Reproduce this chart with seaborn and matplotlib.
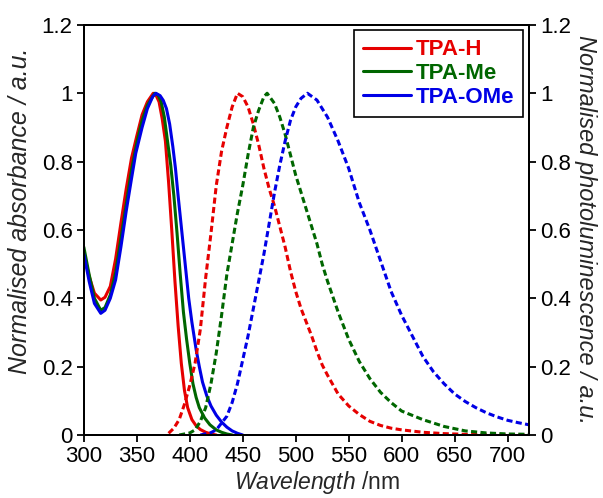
import matplotlib
matplotlib.use("Agg")
import matplotlib.pyplot as plt
import seaborn as sns
from matplotlib.ticker import FormatStrFormatter, FixedLocator

# ---------------- data ----------------
abs_h_wl = [300, 305, 310, 316, 320, 325, 330, 335, 340, 345, 350, 355, 360, 365.5, 368, 371, 374, 377, 380, 383, 386, 389, 392, 395, 398, 402, 406, 410, 415, 420, 425]
abs_h = [0.53, 0.465, 0.415, 0.395, 0.403, 0.435, 0.515, 0.62, 0.72, 0.81, 0.875, 0.937, 0.975, 1.0, 0.995, 0.975, 0.925, 0.86, 0.74, 0.60, 0.45, 0.32, 0.21, 0.13, 0.08, 0.045, 0.027, 0.016, 0.008, 0.003, 0.0]

abs_me_wl = [300, 305, 310, 316, 320, 325, 330, 335, 340, 345, 350, 355, 360, 367, 370, 373, 376, 379, 382, 385, 388, 391, 394, 397, 400, 403, 406, 409, 414, 419, 425, 430, 435, 440]
abs_me = [0.55, 0.47, 0.40, 0.365, 0.373, 0.41, 0.475, 0.575, 0.675, 0.775, 0.855, 0.92, 0.965, 1.0, 0.995, 0.975, 0.93, 0.86, 0.79, 0.70, 0.59, 0.47, 0.36, 0.28, 0.21, 0.15, 0.11, 0.08, 0.05, 0.03, 0.015, 0.008, 0.003, 0.0]

abs_ome_wl = [300, 305, 310, 316, 320, 325, 330, 335, 340, 345, 349, 355, 360, 365, 368, 372, 375, 378, 381, 384, 386.5, 389, 391, 393, 396, 399, 402, 406, 409, 412, 416, 420, 425, 430, 435, 440, 445, 450]
abs_ome = [0.53, 0.45, 0.385, 0.356, 0.365, 0.40, 0.454, 0.55, 0.655, 0.75, 0.824, 0.90, 0.955, 0.99, 1.0, 0.993, 0.979, 0.955, 0.91, 0.844, 0.78, 0.70, 0.64, 0.58, 0.49, 0.40, 0.33, 0.25, 0.20, 0.155, 0.115, 0.085, 0.058, 0.038, 0.023, 0.012, 0.005, 0.0]

pl_h_wl = [380, 385, 390, 395, 400, 405, 410, 415, 420, 425, 430, 435, 440, 445, 450, 455, 460, 465, 470, 475, 480, 485, 490, 495, 500, 505, 510, 515, 520, 525, 530, 540, 550, 560, 570, 580, 590, 600, 620, 640, 660, 680, 700, 720]
pl_h = [0.005, 0.02, 0.045, 0.09, 0.145, 0.21, 0.31, 0.46, 0.59, 0.73, 0.83, 0.90, 0.96, 1.0, 0.99, 0.96, 0.91, 0.85, 0.78, 0.72, 0.67, 0.61, 0.55, 0.48, 0.42, 0.37, 0.33, 0.29, 0.245, 0.205, 0.175, 0.12, 0.085, 0.06, 0.04, 0.028, 0.02, 0.015, 0.008, 0.004, 0.002, 0.001, 0.0, 0.0]

pl_me_wl = [390, 400, 405, 410, 415, 420, 425, 430, 435, 440, 445, 450, 455, 460, 465, 470, 473, 480, 485, 490, 495, 500, 505, 510, 515, 520, 525, 530, 540, 550, 560, 570, 580, 590, 600, 620, 640, 660, 680, 700, 720]
pl_me = [0.0, 0.006, 0.015, 0.04, 0.08, 0.15, 0.24, 0.35, 0.47, 0.56, 0.65, 0.73, 0.82, 0.90, 0.95, 0.99, 1.0, 0.97, 0.93, 0.88, 0.82, 0.76, 0.71, 0.66, 0.61, 0.56, 0.50, 0.45, 0.36, 0.28, 0.215, 0.165, 0.125, 0.095, 0.07, 0.045, 0.025, 0.012, 0.006, 0.003, 0.002]

pl_ome_wl = [410, 420, 425, 430, 435, 440, 445, 450, 455, 460, 465, 470, 475, 480, 485, 490, 495, 500, 505, 511, 520, 530, 540, 550, 560, 570, 580, 590, 600, 610, 620, 630, 640, 650, 660, 670, 680, 690, 700, 710, 720]
pl_ome = [0.0, 0.007, 0.015, 0.035, 0.055, 0.095, 0.15, 0.22, 0.29, 0.37, 0.45, 0.53, 0.62, 0.71, 0.79, 0.86, 0.92, 0.96, 0.985, 1.0, 0.98, 0.93, 0.86, 0.78, 0.68, 0.60, 0.51, 0.42, 0.35, 0.29, 0.23, 0.185, 0.15, 0.12, 0.098, 0.08, 0.065, 0.053, 0.043, 0.036, 0.03]

labels = ["TPA-H", "TPA-Me", "TPA-OMe"]
colors = ["#e60000", "#006600", "#0000e6"]
x_ticks = [300, 350, 400, 450, 500, 550, 600, 650, 700]
y_ticks = [0, 0.2, 0.4, 0.6, 0.8, 1.0, 1.2]

# ---------------- style ----------------
sns.set_style("ticks")
plt.rcParams["font.family"] = ["Liberation Sans", "DejaVu Sans"]
plt.rcParams["mathtext.fontset"] = "custom"
plt.rcParams["mathtext.rm"] = "Liberation Sans"
plt.rcParams["mathtext.it"] = "Liberation Sans:italic"

fig = plt.figure(figsize=(6.03, 4.98), dpi=100)
ax = fig.add_axes([0.139, 0.1265, 0.738, 0.8235])
ax2 = ax.twinx()

lw = 2.2
abs_sets = [(abs_h_wl, abs_h), (abs_me_wl, abs_me), (abs_ome_wl, abs_ome)]
pl_sets = [(pl_h_wl, pl_h), (pl_me_wl, pl_me), (pl_ome_wl, pl_ome)]

for (wl, v), c in zip(abs_sets, colors):
    sns.lineplot(x=wl, y=v, ax=ax, color=c, lw=lw, sort=False, estimator=None)
for (wl, v), c in zip(pl_sets, colors):
    sns.lineplot(x=wl, y=v, ax=ax2, color=c, lw=lw, sort=False, estimator=None,
                 linestyle=(0, (2.0, 1.1)))
handles = [plt.Line2D([], [], color=c, lw=lw) for c in colors]

for a in (ax, ax2):
    a.set_xlim(300, 720)
    a.set_ylim(0, 1.2)
    a.yaxis.set_major_locator(FixedLocator(y_ticks))
    a.yaxis.set_major_formatter(FormatStrFormatter("%g"))
    a.tick_params(direction="out", length=5, width=1.3, labelsize=16, colors="black", pad=3)
    for s in a.spines.values():
        s.set_linewidth(1.4)
        s.set_color("black")
ax.xaxis.set_major_locator(FixedLocator(x_ticks))

ax.set_xlabel(r"$\it{Wavelength}$ /nm", fontsize=16.5)
ax.xaxis.set_label_coords(0.523, -0.084)
ax.set_ylabel("Normalised absorbance / a.u.", fontsize=18, style="italic")
ax.yaxis.set_label_coords(-0.116, 0.546)
ax2.set_ylabel("Normalised photoluminescence / a.u.", fontsize=17, style="italic",
               rotation=270, labelpad=19)

leg = ax2.legend(handles, labels, loc="upper right", frameon=True,
                 fancybox=False, edgecolor="black", framealpha=1,
                 handlelength=2.2, handletextpad=0.2, labelspacing=0.12,
                 borderpad=0.4, borderaxespad=0.25,
                 prop={"weight": "bold", "size": 16})
leg.get_frame().set_linewidth(1.2)
for t, c in zip(leg.get_texts(), colors):
    t.set_color(c)

fig.savefig("out.png", dpi=100)
